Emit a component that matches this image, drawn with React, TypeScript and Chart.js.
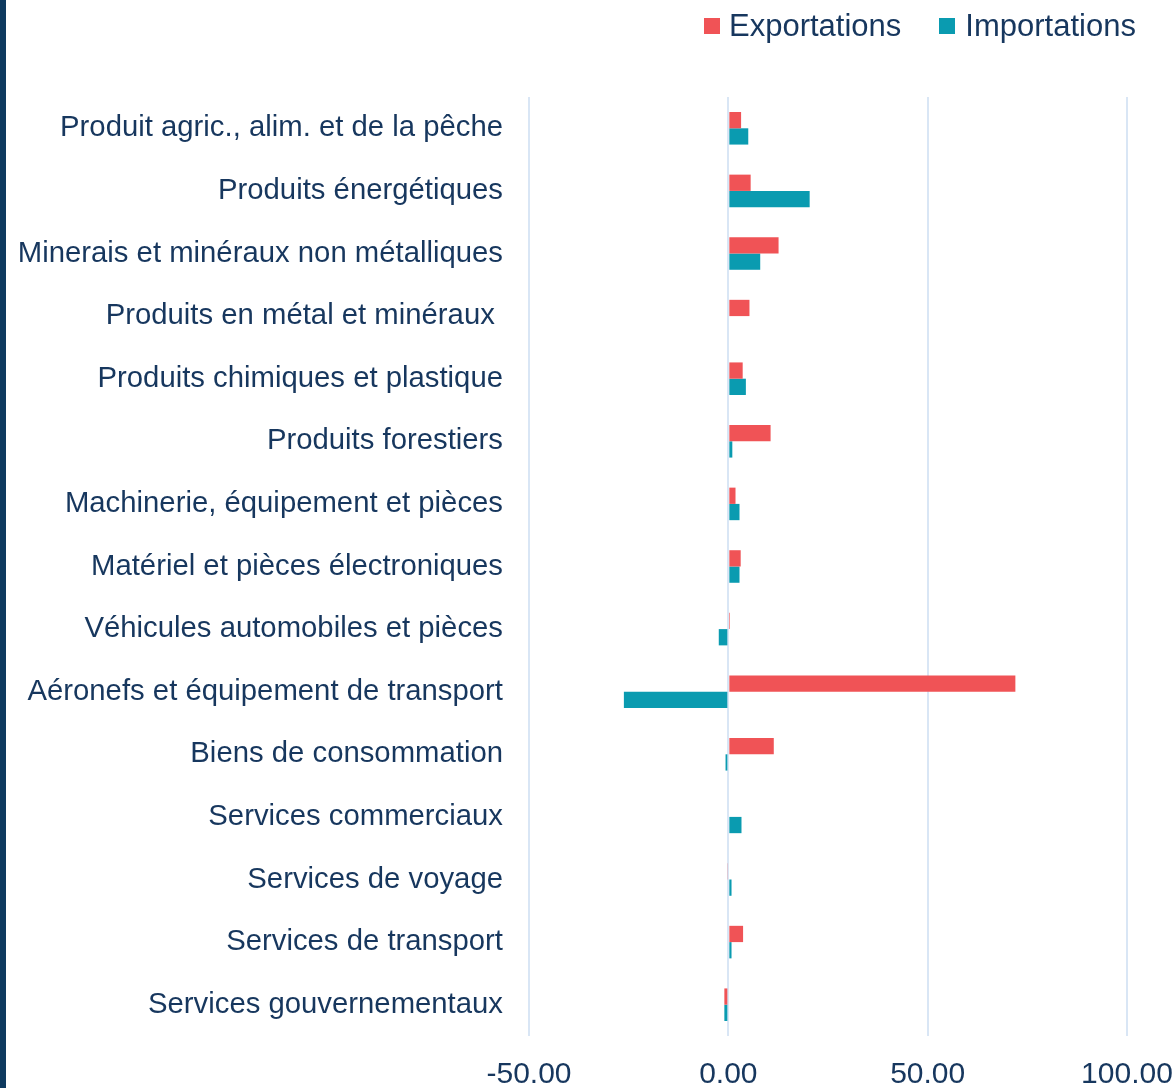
import React, { useEffect, useRef } from "react";
import { Chart, registerables } from "chart.js";

Chart.register(...registerables);

const categories = [
  "Produit agric., alim. et de la pêche",
  "Produits énergétiques",
  "Minerais et minéraux non métalliques",
  "Produits en métal et minéraux ",
  "Produits chimiques et plastique",
  "Produits forestiers",
  "Machinerie, équipement et pièces",
  "Matériel et pièces électroniques",
  "Véhicules automobiles et pièces",
  "Aéronefs et équipement de transport",
  "Biens de consommation",
  "Services commerciaux",
  "Services de voyage",
  "Services de transport",
  "Services gouvernementaux",
];

const exportations = [3.2, 5.6, 12.6, 5.3, 3.6, 10.6, 1.8, 3.1, 0.4, 72.0, 11.4, 0, -0.3, 3.7, -1.0];
const importations = [5.0, 20.4, 8.0, 0, 4.4, 1.0, 2.8, 2.8, -2.4, -26.2, -0.7, 3.3, 0.8, 0.8, -1.0];

const xTicks = [-50, 0, 50, 100];

const RED = "#F05356";
const TEAL = "#0A9BB0";
const NAVY = "#17375E";
const GRID = "#D9E6F5";
const FONT = "'Liberation Sans', Arial, sans-serif";

export default function App() {
  const ref = useRef<HTMLCanvasElement | null>(null);

  useEffect(() => {
    if (!ref.current) return;
    const chart = new Chart(ref.current, {
      type: "bar",
      data: {
        labels: categories,
        datasets: [
          {
            label: "Exportations",
            data: exportations,
            backgroundColor: RED,
            borderWidth: 0,
            barPercentage: 1,
            categoryPercentage: 0.52,
          },
          {
            label: "Importations",
            data: importations,
            backgroundColor: TEAL,
            borderWidth: 0,
            barPercentage: 1,
            categoryPercentage: 0.52,
          },
        ],
      },
      options: {
        indexAxis: "y",
        responsive: false,
        animation: false,
        devicePixelRatio: 1,
        layout: { padding: { top: 97, right: 49, bottom: 0, left: 0 } },
        plugins: {
          legend: { display: false },
          tooltip: { enabled: false },
          title: { display: false },
        },
        scales: {
          x: {
            min: -50,
            max: 100,
            afterBuildTicks: (scale: any) => {
              scale.ticks = xTicks.map((v) => ({ value: v }));
            },
            afterFit: (scale: any) => {
              scale.height = 52;
              scale.paddingRight = 0;
              scale.paddingLeft = 0;
            },
            grid: { color: GRID, lineWidth: 2, drawTicks: false },
            border: { display: false },
            ticks: {
              color: NAVY,
              font: { family: FONT, size: 30 },
              padding: 21,
              maxRotation: 0,
              callback: (v: any) => Number(v).toFixed(2),
            },
          },
          y: {
            afterFit: (scale: any) => {
              scale.width = 529;
              scale.paddingTop = 0;
              scale.paddingBottom = 0;
            },
            grid: { display: false, drawTicks: false },
            border: { display: false },
            ticks: {
              color: NAVY,
              font: { family: FONT, size: 29.3 },
              padding: 26,
              autoSkip: false,
            },
          },
        },
      },
    });
    return () => chart.destroy();
  }, []);

  const legendText: React.CSSProperties = {
    fontFamily: FONT,
    fontSize: 31,
    color: NAVY,
    lineHeight: "36px",
  };

  return (
    <div style={{ position: "absolute", left: 0, top: 0, width: 1176, height: 1088, background: "#fff", overflow: "hidden" }}>
      <div style={{ position: "absolute", left: 0, top: 0, width: 6, height: 1088, background: "#0E3A5F" }} />
      <canvas ref={ref} width={1176} height={1088} style={{ position: "absolute", left: 0, top: 0 }} />
      <div style={{ position: "absolute", left: 704, top: 8, display: "flex", alignItems: "center", height: 36 }}>
        <div style={{ width: 16, height: 16, background: RED }} />
        <span style={{ ...legendText, marginLeft: 9 }}>Exportations</span>
        <div style={{ width: 16, height: 16, background: TEAL, marginLeft: 38 }} />
        <span style={{ ...legendText, marginLeft: 10 }}>Importations</span>
      </div>
    </div>
  );
}
